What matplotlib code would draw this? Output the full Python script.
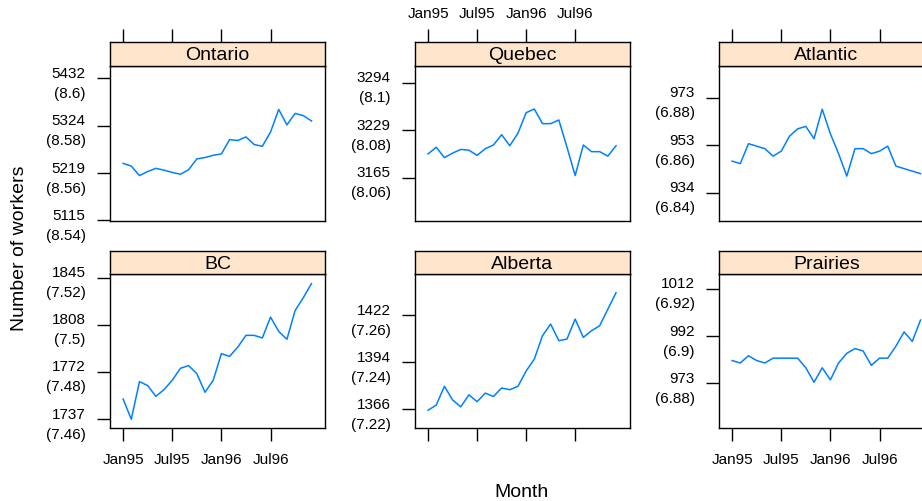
import numpy as np
import matplotlib
matplotlib.use("Agg")
import matplotlib.pyplot as plt

plt.rcParams['font.family'] = ['Liberation Sans', 'DejaVu Sans']

# months Jan95 .. Dec96, workers in thousands
months = np.arange(24)
month_ticks = [0, 6, 12, 18]
month_labels = ['Jan95', 'Jul95', 'Jan96', 'Jul96']

regions = ['Ontario', 'Quebec', 'Atlantic', 'BC', 'Alberta', 'Prairies']

ontario = [5240, 5234, 5213, 5222, 5229, 5225, 5220, 5216, 5226, 5250, 5253, 5258,
           5261, 5293, 5291, 5299, 5282, 5278, 5310, 5361, 5326, 5352, 5347, 5335]
quebec = [3197, 3206, 3192, 3198, 3203, 3202, 3195, 3204, 3209, 3223, 3208, 3225,
          3253, 3258, 3238, 3238, 3243, 3206, 3168, 3209, 3200, 3200, 3194, 3208]
atlantic = [947, 946, 954, 953, 952, 949, 951, 957, 960, 961, 956, 968,
            958, 950, 941, 952, 952, 950, 951, 953, 945, 944, 943, 942]
bc = [1752, 1737, 1765, 1762, 1754, 1759, 1766, 1775, 1777, 1771, 1757, 1766,
      1786, 1784, 1791, 1800, 1800, 1798, 1814, 1803, 1797, 1819, 1829, 1840]
alberta = [1366, 1369, 1380, 1372, 1368, 1375, 1371, 1376, 1374, 1379, 1378, 1380,
           1389, 1396, 1410, 1417, 1407, 1408, 1420, 1409, 1413, 1416, 1426, 1436]
prairies = [982, 981, 984, 982, 981, 983, 983, 983, 983, 979, 973, 979,
            974, 981, 985, 987, 986, 980, 983, 983, 988, 994, 990, 999]
series = [ontario, quebec, atlantic, bc, alberta, prairies]

# log-scale ticks for each panel
log_ticks = [[8.54, 8.56, 8.58, 8.6], [8.06, 8.08, 8.1], [6.84, 6.86, 6.88],
             [7.46, 7.48, 7.5, 7.52], [7.22, 7.24, 7.26], [6.88, 6.9, 6.92]]
ylims = [(8.5397, 8.6055), (8.0417, 8.1072), (6.8280, 6.8937),
         (7.4562, 7.5218), (7.2121, 7.2778), (6.8610, 6.9265)]

W, H = 922, 502
fig = plt.figure(figsize=(W / 100, H / 100), dpi=100)


def rect(x0, y0, x1, y1):
    return [x0 / W, 1 - y1 / H, (x1 - x0) / W, (y1 - y0) / H]


col_x = [(110, 325), (415, 629.5), (719, 934)]
row_y = [(43, 66.5, 222), (251.5, 274.5, 429)]
line_col = '#0080ff'
strip_col = '#ffe5cc'
tick_len = 9.5
tick_fs = 11
label_fs = 14

for i, name in enumerate(regions):
    r, c = divmod(i, 3)
    x0, x1 = col_x[c]
    s0, s1, p1 = row_y[r]
    ax = fig.add_axes(rect(x0, s1, x1, p1))
    ax.plot(months, np.log(series[i]), color=line_col, lw=1.1)
    ax.set_xlim(-1.6, 24.65)
    ax.set_ylim(*ylims[i])
    ticks = log_ticks[i]
    ax.set_yticks(ticks)
    ax.set_yticklabels(['%d\n(%g)' % (round(np.exp(t)), t) for t in ticks],
                       linespacing=1.55, ha='right')
    ax.tick_params(axis='y', direction='out', length=tick_len, width=1, pad=8,
                   labelsize=tick_fs)
    ax.set_xticks(month_ticks)
    ax.set_xticklabels(month_labels)
    if r == 1:
        ax.tick_params(axis='x', direction='out', length=tick_len, width=1,
                       pad=8, labelsize=tick_fs, labelbottom=(c != 1))
    else:
        ax.tick_params(axis='x', bottom=False, labelbottom=False)
    for sp in ax.spines.values():
        sp.set_linewidth(1)

    sx = fig.add_axes(rect(x0, s0, x1, s1))
    sx.set_xlim(-1.6, 24.65)
    sx.set_facecolor(strip_col)
    sx.set_yticks([])
    sx.set_xticks(month_ticks)
    sx.set_xticklabels(month_labels)
    sx.text(0.5, 0.45, name, transform=sx.transAxes, ha='center', va='center',
            fontsize=label_fs)
    for sp in sx.spines.values():
        sp.set_linewidth(1)
    if r == 0:
        sx.tick_params(axis='x', bottom=False, labelbottom=False, top=True,
                       labeltop=(c == 1), direction='out', length=tick_len,
                       width=1, pad=6, labelsize=tick_fs)
    else:
        sx.tick_params(axis='x', bottom=False, labelbottom=False)

fig.text(19 / W, 1 - 248 / H, 'Number of workers', rotation=90,
         ha='center', va='center', fontsize=label_fs)
fig.text(521 / W, 1 - 493 / H, 'Month', ha='center', va='center',
         fontsize=label_fs)

fig.savefig('out.png', dpi=100)
